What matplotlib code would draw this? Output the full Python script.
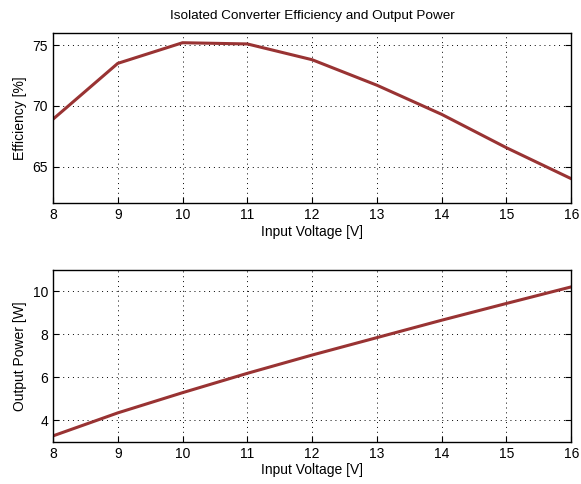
import matplotlib
matplotlib.use("Agg")
from matplotlib import pyplot as plt

plt.rcParams['font.family'] = ['Liberation Sans', 'DejaVu Sans']

# 数据
voltage = [8, 9, 10, 11, 12, 13, 14, 15, 16]  # 输入电压 [V]
efficiency = [68.9, 73.5, 75.2, 75.1, 73.8, 71.7, 69.3, 66.55, 64.0]  # 效率 [%]
power = [3.27, 4.34, 5.28, 6.18, 7.03, 7.84, 8.65, 9.43, 10.2]  # 输出功率 [W]

line_color = '#993333'

fig = plt.figure(figsize=(5.81, 4.84), dpi=100)
ax1 = fig.add_axes([0.0912, 0.5806, 0.8920, 0.3512])
ax2 = fig.add_axes([0.0912, 0.0874, 0.8920, 0.3554])

# 上图: 效率
ax1.plot(voltage, efficiency, color=line_color, linewidth=2.2)
ax1.set_xlim(8, 16)
ax1.set_ylim(62, 76)
ax1.set_yticks([65, 70, 75])
ax1.set_xticks(voltage)
ax1.set_xlabel('Input Voltage [V]', fontsize=10, labelpad=2)
ax1.set_ylabel('Efficiency [%]', fontsize=10, labelpad=4)
ax1.set_title('Isolated Converter Efficiency and Output Power', fontsize=9.7, pad=10)

# 下图: 输出功率
ax2.plot(voltage, power, color=line_color, linewidth=2.2)
ax2.set_xlim(8, 16)
ax2.set_ylim(3, 11)
ax2.set_yticks([4, 6, 8, 10])
ax2.set_xticks(voltage)
ax2.set_xlabel('Input Voltage [V]', fontsize=10, labelpad=2)
ax2.set_ylabel('Output Power [W]', fontsize=10, labelpad=4)

for ax in (ax1, ax2):
    ax.grid(True, color='black', linestyle=(0, (1, 4)), linewidth=0.7)
    ax.tick_params(direction='in', right=True, top=False, length=4,
                   labelsize=10, width=0.8)
    for s in ax.spines.values():
        s.set_linewidth(1.0)

plt.savefig('out.png', dpi=100)
